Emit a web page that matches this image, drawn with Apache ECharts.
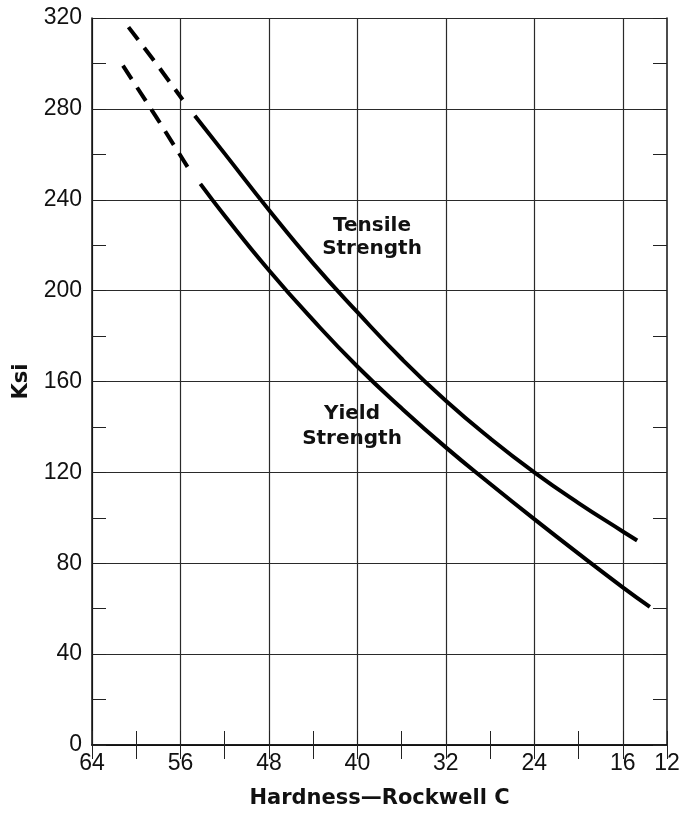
<!DOCTYPE html>
<html>
<head>
<meta charset="utf-8">
<script src="https://cdn.jsdelivr.net/npm/echarts@6/dist/echarts.min.js"></script>
<style>html,body{margin:0;padding:0;background:#fff}#c{width:681px;height:816px}</style>
</head>
<body>
<div id="c"></div>
<script>
// Hardness (Rockwell C) values and strengths (ksi)
const tensileDashX = [60.7, 58.2, 55.8];
const tensileDashY = [316, 300, 284];
const tensileX = [54.7, 52, 48, 44, 40, 36, 32, 28, 24, 20, 16, 14.7];
const tensileY = [277, 260.3, 235.5, 212, 190.5, 170, 151.5, 135, 120, 106.5, 94, 90];
const yieldDashX = [61.2, 58.2, 55.3];
const yieldDashY = [299, 276.5, 254];
const yieldX = [54.2, 52, 48, 44, 40, 36, 32, 28, 24, 20, 16, 13.55];
const yieldY = [247, 233, 209, 187, 166.6, 148.2, 131, 115, 99.4, 84.2, 69.4, 60.8];
const xLabels = [64, 56, 48, 40, 32, 24, 16, 12];
const yLabels = [0, 40, 80, 120, 160, 200, 240, 280, 320];

const zip = (xs, ys) => xs.map((x, i) => [x, ys[i]]);
const font = '"Liberation Sans", Arial, sans-serif';
const boldFont = '"DejaVu Sans", sans-serif';
const gridColor = '#2a2a2a';

const xCommon = {
  type: 'value', min: 12, max: 64, interval: 4, inverse: true,
  axisLine: { show: true, lineStyle: { color: '#111', width: 1.5 } },
  axisTick: { show: true, inside: true, length: 14, lineStyle: { color: '#222', width: 1 } },
};
const yCommon = {
  type: 'value', min: 0, max: 320, interval: 20,
  axisLine: { show: true, lineStyle: { color: '#111', width: 1.5 } },
  axisTick: { show: true, inside: true, length: 14, lineStyle: { color: '#222', width: 1 } },
};

const lineBase = { type: 'line', showSymbol: false, symbol: 'none', silent: true };

const option = {
  backgroundColor: '#fff',
  animation: false,
  grid: { left: 92, right: 14, top: 18, bottom: 71, containLabel: false, outerBoundsMode: 'none' },
  xAxis: [
    Object.assign({}, xCommon, {
      position: 'bottom',
      name: 'Hardness\u2014Rockwell C', nameLocation: 'middle', nameGap: 43,
      nameTextStyle: { fontFamily: boldFont, fontWeight: 'bold', fontSize: 21, color: '#111' },
      axisLabel: {
        margin: 7, fontFamily: font, fontSize: 23, color: '#111',
        formatter: v => xLabels.includes(v) ? String(v) : ''
      },
      splitLine: { show: true, lineStyle: { color: ['rgba(0,0,0,0)', gridColor], width: 1.2 } }
    }),
    Object.assign({}, xCommon, {
      position: 'top',
      axisLabel: { show: false },
      splitLine: { show: false }
    })
  ],
  yAxis: [
    Object.assign({}, yCommon, {
      position: 'left',
      name: 'Ksi', nameLocation: 'middle', nameGap: 60, nameRotate: 90,
      nameTextStyle: { fontFamily: boldFont, fontWeight: 'bold', fontSize: 21, color: '#111' },
      axisLabel: {
        margin: 10, fontFamily: font, fontSize: 23, color: '#111',
        formatter: v => yLabels.includes(v) ? String(v) : ''
      },
      splitLine: { show: true, lineStyle: { color: [gridColor, 'rgba(0,0,0,0)'], width: 1.2 } }
    }),
    Object.assign({}, yCommon, {
      position: 'right',
      axisLabel: { show: false },
      splitLine: { show: false }
    })
  ],
  series: [
    Object.assign({}, lineBase, {
      name: 'Tensile dashed', data: zip(tensileDashX, tensileDashY),
      lineStyle: { color: '#000', width: 4, type: [16, 10], cap: 'butt' }
    }),
    Object.assign({}, lineBase, {
      name: 'Tensile Strength', data: zip(tensileX, tensileY), smooth: 0.5,
      lineStyle: { color: '#000', width: 4 }
    }),
    Object.assign({}, lineBase, {
      name: 'Yield dashed', data: zip(yieldDashX, yieldDashY),
      lineStyle: { color: '#000', width: 4, type: [16, 10], cap: 'butt' }
    }),
    Object.assign({}, lineBase, {
      name: 'Yield Strength', data: zip(yieldX, yieldY), smooth: 0.5,
      lineStyle: { color: '#000', width: 4 }
    })
  ],
  graphic: [
    { type: 'text', x: 372, y: 214,
      style: { text: 'Tensile\nStrength', font: 'bold 20px "DejaVu Sans", sans-serif',
               fill: '#111', align: 'center', verticalAlign: 'top', lineHeight: 23 } },
    { type: 'text', x: 352, y: 401,
      style: { text: 'Yield\nStrength', font: 'bold 20px "DejaVu Sans", sans-serif',
               fill: '#111', align: 'center', verticalAlign: 'top', lineHeight: 25 } }
  ]
};

const chart = echarts.init(document.getElementById('c'), null, { renderer: 'canvas' });
chart.setOption(option);
</script>
</body>
</html>
